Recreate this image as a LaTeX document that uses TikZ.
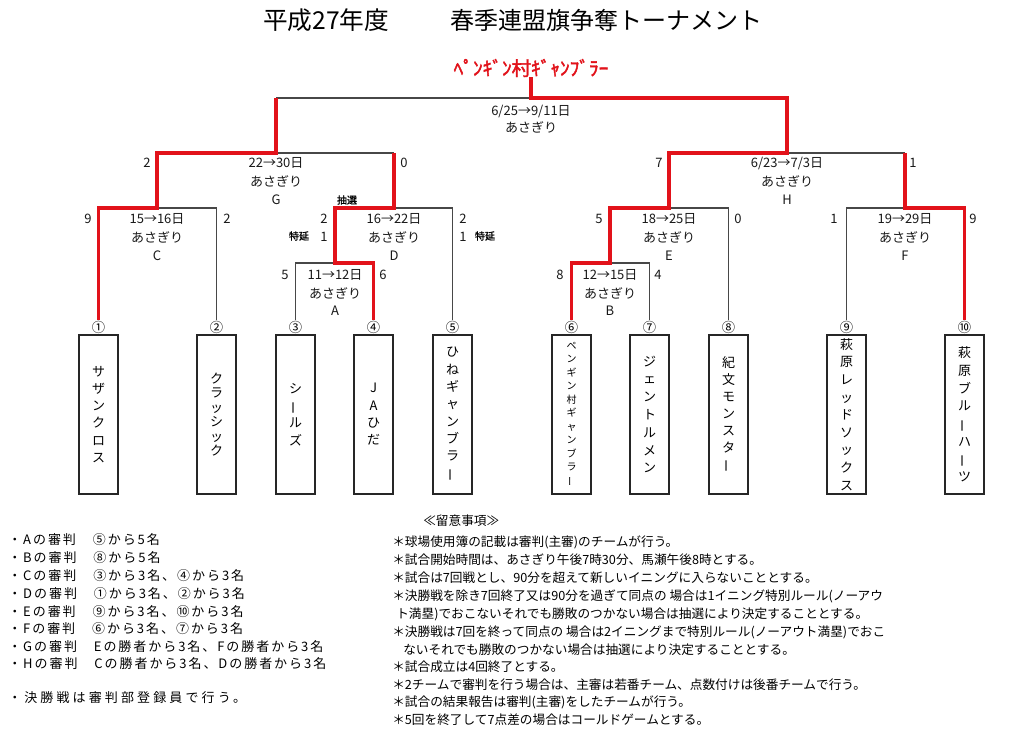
\documentclass[tikz,border=0pt]{standalone}
\usepackage{fontspec}
\usepackage{graphicx}
\setmainfont{Noto Sans CJK JP}
\newfontfamily\notefont[LetterSpace=15]{Noto Sans CJK JP}
\newfontfamily\notefontw[LetterSpace=24]{Noto Sans CJK JP}
\newfontfamily\fatfont[FakeBold=2]{Noto Sans CJK JP}
\newfontfamily\semifont[FakeBold=1.2]{Noto Sans CJK JP}
\definecolor{winred}{RGB}{226,18,26}
\newcommand{\tatebo}{\rotatebox[origin=c]{90}{ー}}
\begin{document}
\begin{tikzpicture}[x=0.75pt,y=-0.75pt,
  lose/.style={draw=black!72, line width=0.8pt},
  win/.style={draw=winred, line width=2.4pt, line join=miter},
  lbl/.style={font=\fontsize{9.75}{11}\selectfont, inner sep=0pt, text=black!90},
  smalllbl/.style={font=\semifont\fontsize{7.5}{9}\selectfont, inner sep=0pt},
  circ/.style={font=\fontsize{10}{11}\selectfont, inner sep=0.4pt},
  teambox/.style={draw=black!85, line width=0.9pt, minimum width=29.25pt, minimum height=119.25pt, inner sep=0pt, align=center},
  note/.style={anchor=west, inner sep=0pt, font=\notefont\fontsize{9.75}{11}\selectfont},
  rnote/.style={anchor=west, inner sep=0pt, font=\fontsize{9.5}{11}\selectfont}]
\fill[white] (0,0) rectangle (1024,743);
\useasboundingbox (0,0) rectangle (1024,743);

% title
\node[anchor=west, font=\fontsize{18.5}{20}\selectfont, inner sep=0pt] (title1) at (263,20) {平成27年度};
\node[anchor=west, font=\fontsize{18}{20}\selectfont, inner sep=0pt] (title2) at (450,20) {春季連盟旗争奪トーナメント};

% champion
\node[font=\fatfont\fontsize{14.5}{16}\selectfont, text=winred, inner sep=0pt] (W) at (531,68) {ﾍﾟﾝｷﾞﾝ村ｷﾞｬﾝﾌﾞﾗｰ};

% match points
\coordinate (Fi) at (531,98);
\coordinate (Gm) at (276,153);
\coordinate (Hm) at (787,153);
\coordinate (Cm) at (157,208);
\coordinate (Dm) at (394,208);
\coordinate (Em) at (669,208);
\coordinate (Fm) at (905,208);
\coordinate (Am) at (335,263);
\coordinate (Bm) at (610,263);

% circled numbers
\node[circ] (n1) at (98.5,327) {①};
\node[circ] (n2) at (216.5,327) {②};
\node[circ] (n3) at (295.5,327) {③};
\node[circ] (n4) at (373.5,327) {④};
\node[circ] (n5) at (452.5,327) {⑤};
\node[circ] (n6) at (571.5,327) {⑥};
\node[circ] (n7) at (649.5,327) {⑦};
\node[circ] (n8) at (728.5,327) {⑧};
\node[circ] (n9) at (846.5,327) {⑨};
\node[circ] (n10) at (964.5,327) {⑩};

% team boxes
\node[teambox, font=\fontsize{9.75}{12.9}\selectfont] (b1) at (98.5,414.5) {サ\\ザ\\ン\\ク\\ロ\\ス};
\node[teambox, font=\fontsize{9.75}{10.9}\selectfont] (b2) at (216.5,414.5) {ク\\ラ\\ッ\\シ\\ッ\\ク};
\node[teambox, font=\fontsize{9.75}{13}\selectfont] (b3) at (295.5,414.5) {シ\\\tatebo\\ル\\ズ};
\node[teambox, font=\fontsize{9.75}{13}\selectfont] (b4) at (373.5,414.5) {J\\A\\ひ\\だ};
\node[teambox, font=\fontsize{9.75}{13}\selectfont] (b5) at (452.5,414.5) {ひ\\ね\\ギ\\ャ\\ン\\ブ\\ラ\\\tatebo};
\node[teambox, font=\fontsize{7.5}{10.1}\selectfont] (b6) at (571.5,414.5) {ペ\\ン\\ギ\\ン\\村\\ギ\\ャ\\ン\\ブ\\ラ\\\tatebo};
\node[teambox, font=\fontsize{9.75}{13.35}\selectfont] (b7) at (649.5,414.5) {ジ\\ェ\\ン\\ト\\ル\\メ\\ン};
\node[teambox, font=\fontsize{9.75}{12.75}\selectfont] (b8) at (728.5,414.5) {紀\\文\\モ\\ン\\ス\\タ\\\tatebo};
\node[teambox, font=\fontsize{9.75}{13.2}\selectfont] (b9) at (846.5,414.5) {萩\\原\\レ\\ッ\\ド\\ソ\\ッ\\ク\\ス};
\node[teambox, font=\fontsize{9.75}{13.3}\selectfont] (b10) at (964.5,414.5) {萩\\原\\ブ\\ル\\\tatebo\\ハ\\\tatebo\\ツ};

% losing branches
\draw[lose] (n2.north) |- (Cm);
\draw[lose] (n3.north) |- (Am);
\draw[lose] (n5.north) |- (Dm);
\draw[lose] (n7.north) |- (Bm);
\draw[lose] (n8.north) |- (Em);
\draw[lose] (n9.north) |- (Fm);
\draw[lose] (Gm |- Fi) -- (Fi);
\draw[lose] (Dm |- Gm) -- (Gm);
\draw[lose] (Fm |- Hm) -- (Hm);

% winning branches
\draw[win] (n1.north) |- (Cm) |- (Gm) -- (Gm |- Fi);
\draw[win] (n4.north) |- (Am) |- (Dm) -- (Dm |- Gm);
\draw[win] (n6.north) |- (Bm) |- (Em) |- (Hm) |- (Fi) -- (W.south);
\draw[win] (n10.north) |- (Fm) -- (Fm |- Hm);

% final
\node[lbl] (dFi) at (531,111) {6/25→9/11日};
\node[lbl] (vFi) at (531,127) {あさぎり};
% G
\node[lbl] (sG1) at (147,163) {2};
\node[lbl] (dG) at (276,163) {22→30日};
\node[lbl] (vG) at (276,181) {あさぎり};
\node[lbl] (mG) at (276,200) {G};
\node[lbl] (sG2) at (404,163) {0};
% H
\node[lbl] (sH1) at (659,163) {7};
\node[lbl] (dH) at (787,163) {6/23→7/3日};
\node[lbl] (vH) at (787,181) {あさぎり};
\node[lbl] (mH) at (787,200) {H};
\node[lbl] (sH2) at (913,163) {1};
% C
\node[lbl] (sC1) at (88,219) {9};
\node[lbl] (dC) at (157,219) {15→16日};
\node[lbl] (vC) at (157,237) {あさぎり};
\node[lbl] (mC) at (157,256) {C};
\node[lbl] (sC2) at (227,219) {2};
% D
\node[lbl] (sD1) at (324,219) {2};
\node[lbl] (sD1b) at (324,237) {1};
\node[lbl] (dD) at (394,219) {16→22日};
\node[lbl] (vD) at (394,237) {あさぎり};
\node[lbl] (mD) at (394,256) {D};
\node[lbl] (sD2) at (463,219) {2};
\node[lbl] (sD2b) at (463,237) {1};
\node[smalllbl] (kD) at (347,200) {抽選};
\node[smalllbl] (tD1) at (299,236) {特延};
\node[smalllbl] (tD2) at (485,236) {特延};
% E
\node[lbl] (sE1) at (599,219) {5};
\node[lbl] (dE) at (669,219) {18→25日};
\node[lbl] (vE) at (669,237) {あさぎり};
\node[lbl] (mE) at (669,256) {E};
\node[lbl] (sE2) at (738,219) {0};
% F
\node[lbl] (sF1) at (834,219) {1};
\node[lbl] (dF) at (905,219) {19→29日};
\node[lbl] (vF) at (905,237) {あさぎり};
\node[lbl] (mF) at (905,256) {F};
\node[lbl] (sF2) at (973,219) {9};
% A
\node[lbl] (sA1) at (285,275) {5};
\node[lbl] (dA) at (335,275) {11→12日};
\node[lbl] (vA) at (335,293) {あさぎり};
\node[lbl] (mA) at (335,311) {A};
\node[lbl] (sA2) at (383,275) {6};
% B
\node[lbl] (sB1) at (560,275) {8};
\node[lbl] (dB) at (610,275) {12→15日};
\node[lbl] (vB) at (610,293) {あさぎり};
\node[lbl] (mB) at (610,311) {B};
\node[lbl] (sB2) at (658,275) {4};

% left notes
\node[note] (L1) at (8,540) {・Aの審判　⑤から5名};
\node[note] (L2) at (8,558) {・Bの審判　⑧から5名};
\node[note] (L3) at (8,576) {・Cの審判　③から3名、④から3名};
\node[note] (L4) at (8,594) {・Dの審判　①から3名、②から3名};
\node[note] (L5) at (8,612) {・Eの審判　⑨から3名、⑩から3名};
\node[note] (L6) at (8,629) {・Fの審判　⑥から3名、⑦から3名};
\node[note] (L7) at (8,647) {・Gの審判　Eの勝者から3名、Fの勝者から3名};
\node[note] (L8) at (8,664) {・Hの審判　Cの勝者から3名、Dの勝者から3名};
\node[note, font=\notefontw\fontsize{9.75}{11}\selectfont] (L9) at (8,698) {・決勝戦は審判部登録員で行う。};

% right notes
\node[rnote] (R0) at (423,521) {≪留意事項≫};
\node[rnote] (R1) at (392,542) {＊球場使用簿の記載は審判(主審)のチームが行う。};
\node[rnote] (R2) at (392,560) {＊試合開始時間は、あさぎり午後7時30分、馬瀬午後8時とする。};
\node[rnote] (R3) at (392,578) {＊試合は7回戦とし、90分を超えて新しいイニングに入らないこととする。};
\node[rnote] (R4) at (392,596) {＊決勝戦を除き7回終了又は90分を過ぎて同点の 場合は1イニング特別ルール(ノーアウ};
\node[rnote] (R4b) at (396,614) {ト満塁)でおこないそれでも勝敗のつかない場合は抽選により決定することとする。};
\node[rnote] (R5) at (392,632) {＊決勝戦は7回を終って同点の 場合は2イニングまで特別ルール(ノーアウト満塁)でおこ};
\node[rnote] (R5b) at (403,650) {ないそれでも勝敗のつかない場合は抽選により決定することとする。};
\node[rnote] (R6) at (392,667) {＊試合成立は4回終了とする。};
\node[rnote] (R7) at (392,685) {＊2チームで審判を行う場合は、主審は若番チーム、点数付けは後番チームで行う。};
\node[rnote] (R8) at (392,702) {＊試合の結果報告は審判(主審)をしたチームが行う。};
\node[rnote] (R9) at (392,720) {＊5回を終了して7点差の場合はコールドゲームとする。};
\end{tikzpicture}
\end{document}
